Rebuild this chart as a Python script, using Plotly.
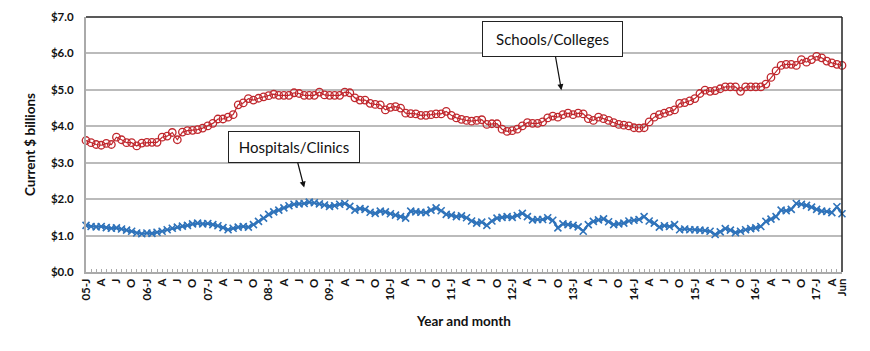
import plotly.graph_objects as go

# Monthly, Jan 2005 .. Jun 2017 (150 months)
schools = [
    3.61, 3.55, 3.50, 3.48, 3.53, 3.50, 3.70, 3.63, 3.55, 3.55, 3.46, 3.54,
    3.56, 3.56, 3.56, 3.70, 3.73, 3.83, 3.63, 3.84, 3.88, 3.89, 3.91, 3.95,
    4.01, 4.08, 4.20, 4.20, 4.25, 4.32, 4.59, 4.64, 4.76, 4.72, 4.77, 4.81,
    4.84, 4.88, 4.85, 4.85, 4.85, 4.92, 4.90, 4.85, 4.85, 4.85, 4.94, 4.86,
    4.85, 4.85, 4.85, 4.94, 4.92, 4.78, 4.72, 4.72, 4.63, 4.60, 4.59, 4.45,
    4.52, 4.54, 4.50, 4.36, 4.35, 4.34, 4.30, 4.30, 4.32, 4.34, 4.34, 4.41,
    4.30, 4.23, 4.19, 4.16, 4.14, 4.16, 4.18, 4.05, 4.07, 4.07, 3.92, 3.86,
    3.88, 3.92, 4.01, 4.10, 4.08, 4.08, 4.12, 4.23, 4.28, 4.25, 4.32, 4.36,
    4.32, 4.36, 4.34, 4.21, 4.16, 4.25, 4.21, 4.16, 4.10, 4.05, 4.03, 4.01,
    3.96, 3.95, 3.96, 4.12, 4.25, 4.32, 4.36, 4.41, 4.45, 4.63, 4.65, 4.70,
    4.76, 4.90, 4.99, 4.96, 4.98, 5.03, 5.08, 5.08, 5.08, 4.96, 5.08, 5.08,
    5.08, 5.08, 5.16, 5.34, 5.52, 5.67, 5.70, 5.70, 5.67, 5.83, 5.76, 5.83,
    5.92, 5.88, 5.79, 5.74, 5.70, 5.67,
]

hospitals = [
    1.28, 1.25, 1.24, 1.25, 1.22, 1.20, 1.21, 1.18, 1.15, 1.12, 1.07, 1.05,
    1.07, 1.06, 1.09, 1.12, 1.16, 1.20, 1.23, 1.26, 1.28, 1.32, 1.34, 1.32,
    1.33, 1.30, 1.27, 1.22, 1.16, 1.20, 1.23, 1.25, 1.23, 1.30, 1.39, 1.48,
    1.58, 1.65, 1.70, 1.76, 1.82, 1.86, 1.87, 1.88, 1.92, 1.90, 1.87, 1.84,
    1.80, 1.82, 1.86, 1.88, 1.80, 1.70, 1.74, 1.72, 1.64, 1.61, 1.67, 1.65,
    1.60, 1.56, 1.52, 1.48, 1.67, 1.65, 1.64, 1.63, 1.70, 1.76, 1.68, 1.58,
    1.56, 1.52, 1.54, 1.49, 1.40, 1.34, 1.37, 1.28, 1.40, 1.48, 1.50, 1.52,
    1.50, 1.55, 1.61, 1.52, 1.43, 1.44, 1.44, 1.49, 1.42, 1.21, 1.32, 1.30,
    1.28, 1.24, 1.12, 1.30, 1.39, 1.43, 1.46, 1.38, 1.30, 1.32, 1.34, 1.40,
    1.42, 1.44, 1.52, 1.40, 1.34, 1.23, 1.27, 1.25, 1.30, 1.16, 1.18, 1.16,
    1.16, 1.15, 1.14, 1.12, 1.03, 1.10, 1.19, 1.15, 1.08, 1.12, 1.16, 1.19,
    1.21, 1.25, 1.39, 1.45, 1.52, 1.70, 1.68, 1.72, 1.88, 1.86, 1.83, 1.78,
    1.72, 1.67, 1.66, 1.63, 1.79, 1.60,
]

# tick labels every 3 months, plus final month
tick_idx = list(range(0, 150, 3)) + [149]
tick_labels = []
for i in range(0, 150, 3):
    m = i % 12
    if m == 0:
        tick_labels.append(f"{5 + i // 12:02d}-J")
    else:
        tick_labels.append({3: "A", 6: "J", 9: "O"}[m])
tick_labels.append("Jun")

months = list(range(len(schools)))

y_vals = [0, 1, 2, 3, 4, 5, 6, 7]
y_labels = [f"${v:.1f}" for v in y_vals]

FONT = "Lato, 'Century Gothic', sans-serif"

fig = go.Figure()
fig.add_trace(go.Scatter(
    x=months, y=schools, mode="lines+markers", name="Schools/Colleges",
    line=dict(color="#C0272D", width=1.2),
    marker=dict(symbol="circle-open", size=7.5, color="#C0272D", line=dict(width=1.3)),
    cliponaxis=False,
))
fig.add_trace(go.Scatter(
    x=months, y=hospitals, mode="lines+markers", name="Hospitals/Clinics",
    line=dict(color="#2F73BA", width=2.2),
    marker=dict(symbol="x-thin-open", size=7, color="#2F73BA", line=dict(width=1.6, color="#2F73BA")),
    cliponaxis=False,
))

fig.update_layout(
    width=870, height=351,
    margin=dict(l=86, r=28, t=10, b=79),
    paper_bgcolor="white", plot_bgcolor="white",
    showlegend=False,
    font=dict(family=FONT, color="#111111"),
    xaxis=dict(
        range=[0, 149], tickmode="array", tickvals=tick_idx, ticktext=tick_labels,
        tickangle=-90, tickfont=dict(size=11.5, weight="bold", family=FONT),
        showgrid=False, zeroline=False,
        showline=True, linecolor="#AAAAAA", linewidth=2,
        ticks="inside", ticklen=3, tickcolor="#AAAAAA",
        minor=dict(dtick=1, tick0=0, ticks="inside", ticklen=3, tickcolor="#AAAAAA"),
        title=dict(text="Year and month", font=dict(size=13.5, weight="bold", family=FONT), standoff=17),
    ),
    yaxis=dict(
        range=[0, 7], tickmode="array", tickvals=y_vals, ticktext=y_labels,
        tickfont=dict(size=11.5, weight="bold", family=FONT),
        showgrid=True, gridcolor="#BBBBBB", gridwidth=1.5,
        zeroline=False, showline=True, linecolor="#AAAAAA", linewidth=2,
        ticks="", ticklabelstandoff=8,
        title=dict(text="Current $ billions", font=dict(size=13.5, weight="bold", family=FONT), standoff=12),
    ),
    shapes=[
        dict(type="line", xref="paper", yref="paper", x0=0, x1=1, y0=1, y1=1,
             line=dict(color="#222222", width=1.5)),
        dict(type="line", xref="paper", yref="paper", x0=1, x1=1, y0=0, y1=1,
             line=dict(color="#222222", width=1.5)),
    ],
    annotations=[
        dict(x=93.7, y=4.99, xref="x", yref="y", text="Schools/Colleges",
             showarrow=True, ax=-9, ay=-51, arrowhead=2, arrowsize=1, arrowwidth=1.2,
             arrowcolor="#111111", font=dict(size=15, color="#111111", family=FONT),
             bgcolor="white", bordercolor="#222222", borderwidth=1,
             width=137, height=32, borderpad=1),
        dict(x=43.0, y=2.32, xref="x", yref="y", text="Hospitals/Clinics",
             showarrow=True, ax=-10.5, ay=-40.5, arrowhead=2, arrowsize=1, arrowwidth=1.2,
             arrowcolor="#111111", font=dict(size=15, color="#111111", family=FONT),
             bgcolor="white", bordercolor="#222222", borderwidth=1,
             width=128, height=28, borderpad=1),
    ],
)

fig.write_html("out.html")
